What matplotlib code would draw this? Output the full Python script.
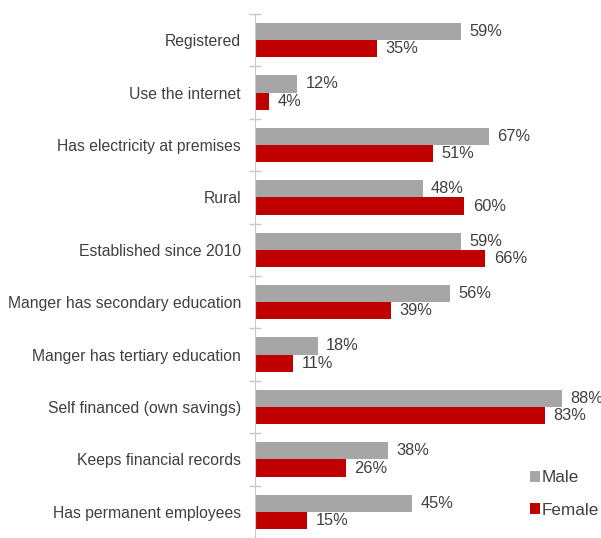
import numpy as np
import matplotlib.pyplot as plt

plt.rcParams['font.family'] = ['Liberation Sans', 'DejaVu Sans']

categories = [
    "Registered",
    "Use the internet",
    "Has electricity at premises",
    "Rural",
    "Established since 2010",
    "Manger has secondary education",
    "Manger has tertiary education",
    "Self financed (own savings)",
    "Keeps financial records",
    "Has permanent employees",
]
male = [59, 12, 67, 48, 59, 56, 18, 88, 38, 45]
female = [35, 4, 51, 60, 66, 39, 11, 83, 26, 15]

text_color = "#404040"
gray = "#A6A6A6"
red = "#C00000"

fig = plt.figure(figsize=(6.01, 5.38), dpi=100)
ax = fig.add_axes([255 / 601, 0.0, 349 / 601, 524 / 538])

y = np.arange(len(categories))
h = 0.33
bm = ax.barh(y - h / 2, male, height=h, color=gray, label="Male")
bf = ax.barh(y + h / 2, female, height=h, color=red, label="Female")

for bars, vals in ((bm, male), (bf, female)):
    for b, v in zip(bars, vals):
        ax.text(v + 2.4, b.get_y() + b.get_height() / 2, f"{v}%",
                va="center", ha="left", fontsize=11.8, color=text_color)

ax.set_xlim(0, 100)
ax.set_ylim(len(categories) - 0.5, -0.5)

ax.set_yticks(y)
ax.set_yticklabels(categories, fontsize=11.3, color=text_color)
ax.tick_params(axis="y", which="major", length=0, pad=10)
ax.set_yticks(np.arange(len(categories) + 1) - 0.5, minor=True)
ax.tick_params(axis="y", which="minor", length=9, direction="inout",
               color="#C8C8C8", width=1)
ax.set_xticks([])

for s in ("top", "right", "bottom"):
    ax.spines[s].set_visible(False)
ax.spines["left"].set_color("#C8C8C8")

leg = fig.legend(handles=[bm, bf], labels=["Male", "Female"],
                 loc="center left", bbox_to_anchor=(530 / 601, 1 - 494 / 538),
                 frameon=False, fontsize=12.3, handlelength=0.6, handleheight=0.6,
                 handletextpad=0.1, labelspacing=1.0, borderaxespad=0,
                 borderpad=0)
for t in leg.get_texts():
    t.set_color(text_color)

fig.savefig("out.png", dpi=100)
